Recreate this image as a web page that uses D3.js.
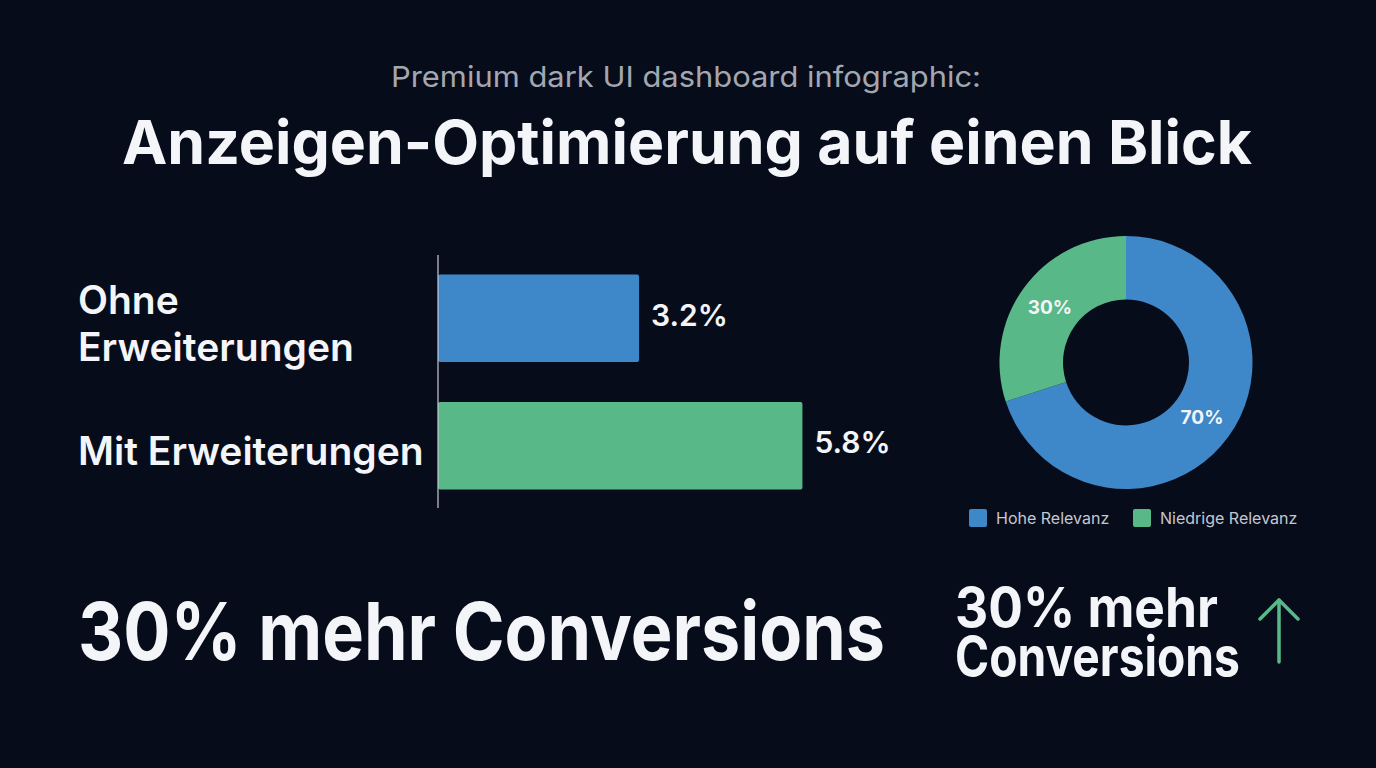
<!DOCTYPE html>
<html>
<head>
<meta charset="utf-8">
<script src="https://cdn.jsdelivr.net/npm/d3@7"></script>
<style>
  html, body { margin: 0; padding: 0; background: #070c1b; }
  svg { display: block; font-family: Inter, "Noto Sans", sans-serif; }
</style>
</head>
<body>
<div id="vis"></div>
<script>
'use strict';
// bar data: conversion rate by ad extensions
var barCategories = [['Ohne', 'Erweiterungen'], ['Mit Erweiterungen']];
var barValues = [3.2, 5.8];
var barLabels = ['3.2%', '5.8%'];
var barColors = ['#3e87c9', '#59b887'];

// donut data: relevance split
var donutNames = ['Hohe Relevanz', 'Niedrige Relevanz'];
var donutValues = [70, 30];
var donutLabels = ['70%', '30%'];
var donutColors = ['#3e87c9', '#59b887'];

var width = 1376, height = 768;

var svg = d3.select('#vis').append('svg')
    .attr('width', width)
    .attr('height', height);

svg.append('rect').attr('width', width).attr('height', height).attr('fill', '#070c1b');

// heading
svg.append('text')
    .attr('x', 686).attr('y', 87)
    .attr('text-anchor', 'middle')
    .attr('font-size', 29)
    .attr('fill', '#a3a7b0')
    .attr('textLength', 590)
    .attr('lengthAdjust', 'spacingAndGlyphs')
    .text('Premium dark UI dashboard infographic:');

svg.append('text')
    .attr('x', 687).attr('y', 164)
    .attr('text-anchor', 'middle')
    .attr('font-size', 61)
    .attr('font-weight', 700)
    .attr('fill', '#f4f5f8')
    .attr('textLength', 1130)
    .attr('lengthAdjust', 'spacingAndGlyphs')
    .text('Anzeigen-Optimierung auf einen Blick');

// ---- bar chart ----
var x = d3.scaleLinear().domain([0, 6]).range([438, 815]);
var y = d3.scaleBand().domain(d3.range(barValues.length)).range([274.5, 489.5]).paddingInner(0.314);

var bars = svg.append('g');
bars.selectAll('rect').data(barValues).enter().append('rect')
    .attr('x', x(0))
    .attr('y', function(d, i) { return y(i); })
    .attr('width', function(d) { return x(d) - x(0); })
    .attr('height', y.bandwidth())
    .attr('rx', 2)
    .attr('fill', function(d, i) { return barColors[i]; });

bars.selectAll('text.val').data(barValues).enter().append('text')
    .attr('class', 'val')
    .attr('x', function(d) { return x(d) + 12; })
    .attr('y', function(d, i) { return y(i) + y.bandwidth() / 2; })
    .attr('dy', '0.25em')
    .attr('font-size', 30)
    .attr('font-weight', 600)
    .attr('fill', '#f4f5f8')
    .text(function(d, i) { return barLabels[i]; });

// category labels, left aligned
bars.selectAll('text.cat').data(barCategories).enter().append('text')
    .attr('class', 'cat')
    .attr('x', 78)
    .attr('y', function(d, i) { return y(i) + y.bandwidth() / 2 + 19.5 - (d.length - 1) * 23.5; })
    .attr('font-size', 39)
    .attr('font-weight', 600)
    .attr('fill', '#f4f5f8')
    .each(function(d) {
        var t = d3.select(this);
        d.forEach(function(line, j) {
            t.append('tspan').attr('x', 78).attr('dy', j === 0 ? 0 : 47).text(line);
        });
    });

// baseline axis
svg.append('line')
    .attr('x1', x(0)).attr('x2', x(0))
    .attr('y1', 255).attr('y2', 508)
    .attr('stroke', '#c9ccd3').attr('stroke-width', 1.2);

// ---- donut ----
var cx = 1126, cy = 362.5;
var pie = d3.pie().sort(null).value(function(d) { return d; });
var arc = d3.arc().innerRadius(63).outerRadius(126.5);
var labelArc = d3.arc().innerRadius(94).outerRadius(94);
var donut = svg.append('g').attr('transform', 'translate(' + cx + ',' + cy + ')');
var slices = pie(donutValues);

donut.selectAll('path').data(slices).enter().append('path')
    .attr('d', arc)
    .attr('fill', function(d, i) { return donutColors[i]; });

donut.selectAll('text').data(slices).enter().append('text')
    .attr('transform', function(d) { return 'translate(' + labelArc.centroid(d) + ')'; })
    .attr('text-anchor', 'middle')
    .attr('dy', '0.35em')
    .attr('font-size', 19)
    .attr('font-weight', 700)
    .attr('fill', '#f4f5f8')
    .text(function(d, i) { return donutLabels[i]; });

// legend
var legendX = [969, 1133];
var legend = svg.append('g');
legend.selectAll('rect').data(donutNames).enter().append('rect')
    .attr('x', function(d, i) { return legendX[i]; })
    .attr('y', 509)
    .attr('width', 18).attr('height', 18).attr('rx', 2)
    .attr('fill', function(d, i) { return donutColors[i]; });
legend.selectAll('text').data(donutNames).enter().append('text')
    .attr('x', function(d, i) { return legendX[i] + 27; })
    .attr('y', 518)
    .attr('dy', '0.35em')
    .attr('font-size', 16)
    .attr('fill', '#c4c8d0')
    .text(function(d) { return d; });

// ---- bottom callouts ----
svg.append('text')
    .attr('x', 78).attr('y', 660)
    .attr('font-size', 80)
    .attr('font-weight', 700)
    .attr('fill', '#f4f5f8')
    .attr('textLength', 807)
    .attr('lengthAdjust', 'spacingAndGlyphs')
    .text('30% mehr Conversions');

var callout = svg.append('text')
    .attr('font-size', 55)
    .attr('font-weight', 700)
    .attr('fill', '#f4f5f8');
callout.append('tspan').attr('x', 955).attr('y', 627)
    .attr('textLength', 263).attr('lengthAdjust', 'spacingAndGlyphs').text('30% mehr');
callout.append('tspan').attr('x', 955).attr('y', 676)
    .attr('textLength', 285).attr('lengthAdjust', 'spacingAndGlyphs').text('Conversions');

// up arrow
var arrow = svg.append('g')
    .attr('fill', 'none')
    .attr('stroke', '#59b887')
    .attr('stroke-width', 3.5)
    .attr('stroke-linecap', 'round')
    .attr('stroke-linejoin', 'round');
arrow.append('line').attr('x1', 1279).attr('y1', 662).attr('x2', 1279).attr('y2', 600);
arrow.append('polyline').attr('points', '1260,619 1279,600 1298,619');
</script>
</body>
</html>
